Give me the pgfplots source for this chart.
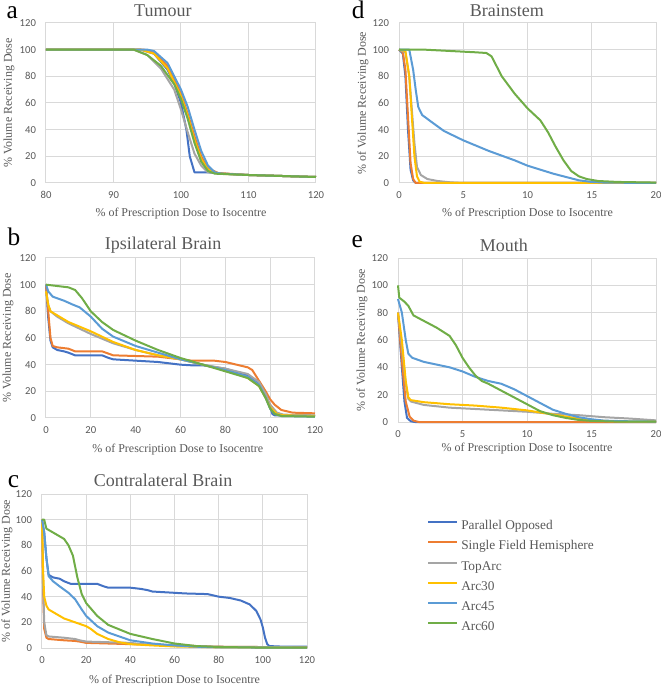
\documentclass[border=0pt]{standalone}
\usepackage{fontspec}
\setmainfont{Liberation Serif}
\newfontfamily\tickfont{Carlito}
\usepackage{pgfplots}
\pgfplotsset{compat=1.18}
\definecolor{cPO}{HTML}{4472C4}
\definecolor{cSF}{HTML}{ED7D31}
\definecolor{cTA}{HTML}{A5A5A5}
\definecolor{cAa}{HTML}{FFC000}
\definecolor{cAb}{HTML}{5B9BD5}
\definecolor{cAc}{HTML}{70AD47}
\definecolor{txtgray}{HTML}{595959}
\definecolor{gridgray}{HTML}{D9D9D9}
\tikzset{letter/.style={anchor=base west, font=\fontsize{19}{20}\selectfont, text=black}}
\pgfplotsset{
  dvh/.style={
    scale only axis,
    anchor=south west,
    ymin=0, ymax=120, ytick={0,20,...,120},
    grid=major,
    major grid style={draw=gridgray, line width=0.75pt},
    axis line style={draw=gridgray, line width=0.75pt},
    major tick length=0pt,
    tick label style={font=\tickfont\fontsize{8}{9}\selectfont, text=txtgray},
    /pgf/number format/assume math mode=true,
    xticklabel shift=3pt, yticklabel shift=4pt,
    label style={font=\fontsize{9}{10}\selectfont, text=txtgray},
    title style={font=\fontsize{13.5}{15}\selectfont, text=txtgray, anchor=center, yshift=-6pt},
    every axis plot/.append style={line width=1.5pt, mark=none, line join=round},
    clip=false,
  },
}
\begin{document}
\begin{tikzpicture}
\path[use as bounding box] (0,0) rectangle (495.75pt,515.25pt);

% ---------------- a: Tumour
\begin{axis}[dvh, at={(34.5pt,378pt)}, width=202.5pt, height=120pt,
  xmin=80, xmax=120, xtick={80,90,...,120},
  title={Tumour}, title style={at={(axis description cs:0.433,1.08)}},
  xlabel={\% of Prescription Dose to Isocentre},
  xlabel style={at={(axis description cs:0.5,-0.19)}, anchor=center},
  ylabel={\% Volume Receiving Dose},
  ylabel style={at={(axis description cs:-0.137,0.5)}, anchor=center}]
\addplot[cPO] coordinates {(80,100)(94,100)(96,97)(98,85)(99,75)(100,60)(100.8,40)(101.3,20)(102,8)(104,8)(106,7)(110,6)(120,4.5)};
\addplot[cSF] coordinates {(80,100)(94.5,100)(96,98)(98,88)(100,67)(101,52)(102,35)(103,20)(104,11)(105.5,7.5)(110,6)(120,4.5)};
\addplot[cTA] coordinates {(80,100)(93,100)(95,96)(97,86)(99,70)(100,55)(101,38)(102,22)(103,13)(104,8)(106,7)(110,6)(120,4.5)};
\addplot[cAa] coordinates {(80,100)(94,100)(96,97)(98,86)(100,65)(101,50)(102,32)(103,18)(104,10)(105.5,7)(110,6)(120,4.5)};
\addplot[cAb] coordinates {(80,100)(95,100)(96,99)(98,90)(100,70)(101,57)(102,40)(103,24)(104,13)(105,8)(106,7)(110,6)(120,4.5)};
\addplot[cAc] coordinates {(80,100)(93,100)(95,96)(97,88)(99,74)(100,63)(101,48)(102,30)(103,16)(104,9)(105,7)(110,6)(120,4.5)};
\node[letter] at (axis description cs:-0.163,1.031) {a};
\end{axis}

% ---------------- d: Brainstem
\begin{axis}[dvh, at={(299.25pt,378pt)}, width=192.75pt, height=120pt,
  xmin=0, xmax=20, xtick={0,5,...,20},
  title={Brainstem}, title style={at={(axis description cs:0.42,1.08)}},
  xlabel={\% of Prescription Dose to Isocentre},
  xlabel style={at={(axis description cs:0.5,-0.19)}, anchor=center},
  ylabel={\% of Volume Receiving Dose},
  ylabel style={at={(axis description cs:-0.14,0.5)}, anchor=center}]
\addplot[cPO] coordinates {(0,100)(0.3,97)(0.5,80)(0.7,40)(0.9,10)(1.1,2)(1.3,0)(20,0)};
\addplot[cSF] coordinates {(0,100)(0.3,98)(0.5,85)(0.7,50)(0.9,15)(1.1,3)(1.3,0)(20,0)};
\addplot[cTA] coordinates {(0,100)(0.5,98)(0.8,80)(1.0,55)(1.2,30)(1.4,12)(1.7,6)(2.2,3)(3,1.5)(4,0.5)(5,0)(20,0)};
\addplot[cAa] coordinates {(0,100)(0.5,99)(0.8,80)(1.0,50)(1.2,20)(1.4,5)(1.6,1)(2,0)(20,0)};
\addplot[cAb] coordinates {(0,100)(0.8,100)(1.1,85)(1.3,70)(1.5,57)(1.8,51)(2.5,46)(3.5,39)(5,32)(7,24)(9,17)(10,13)(11,10)(12,7)(13,4.5)(14,2)(15,0.8)(16,0.3)(20,0)};
\addplot[cAc] coordinates {(0,100)(2,100)(4,99)(6,98)(6.8,97.5)(7.2,95)(8,80)(9,67)(10,56)(11,47)(11.6,38)(12.2,27)(12.8,17)(13.4,9)(14,5)(14.6,3)(15.5,1.5)(17,0.8)(20,0.3)};
\node[letter] at (axis description cs:-0.202,1.031) {d};
\end{axis}

% ---------------- b: Ipsilateral Brain
\begin{axis}[dvh, at={(34.5pt,201.75pt)}, width=201.75pt, height=120pt,
  xmin=0, xmax=120, xtick={0,20,...,120},
  title={Ipsilateral Brain}, title style={at={(axis description cs:0.435,1.081)}},
  xlabel={\% of Prescription Dose to Isocentre},
  xlabel style={at={(axis description cs:0.49,-0.2)}, anchor=center},
  ylabel={\% Volume Receiving Dose},
  ylabel style={at={(axis description cs:-0.141,0.5)}, anchor=center}]
\addplot[cPO] coordinates {(0,100)(1,75)(2,58)(3,53)(5,51)(8,50)(10,49)(13,47)(25,47)(28,45)(30,44)(40,43)(50,42)(55,41)(60,40)(65,39.5)(70,39.5)(80,37)(90,32)(95,26)(98,18)(100,8)(101,3)(102,2)(120,1.5)};
\addplot[cSF] coordinates {(0,100)(1,80)(2,60)(3,54)(5,53)(10,52)(13,50)(25,50)(30,47)(50,46)(55,45)(60,44)(65,43)(75,43)(80,42)(85,40)(90,38)(92,36)(95,28)(98,20)(100,14)(102,10)(105,6)(110,4)(120,3.5)};
\addplot[cTA] coordinates {(0,95)(1,85)(2,80)(5,76)(10,71)(20,63)(30,56)(40,51)(50,47)(60,44)(70,40)(80,37)(90,33)(95,27)(98,18)(100,10)(103,4)(106,2.5)(120,2)};
\addplot[cAa] coordinates {(0,95)(1,85)(2,80)(5,77)(10,72)(20,65)(30,57)(40,51)(50,47)(60,44)(70,40)(80,36)(90,30)(95,24)(98,15)(100,8)(103,3)(106,2)(120,1.5)};
\addplot[cAb] coordinates {(0,100)(1,95)(3,91)(8,88)(12,85)(15,83)(20,76)(25,67)(30,61)(40,54)(50,49)(60,44)(70,40)(80,36)(90,31)(95,25)(98,15)(100,7)(102,3)(105,1.5)(120,1)};
\addplot[cAc] coordinates {(0,100)(5,99)(10,98)(13,96)(16,90)(20,80)(25,72)(30,66)(35,62)(40,58)(50,51)(60,45)(70,40)(80,35)(90,30)(95,24)(98,15)(100,7)(102,3)(105,1.5)(120,1)};
\node[letter] at (axis description cs:-0.16,1.081) {b};
\end{axis}

% ---------------- e: Mouth
\begin{axis}[dvh, at={(298.5pt,198.75pt)}, width=193.5pt, height=123pt,
  xmin=0, xmax=20, xtick={0,5,...,20},
  title={Mouth}, title style={at={(axis description cs:0.41,1.08)}},
  xlabel={\% of Prescription Dose to Isocentre},
  xlabel style={at={(axis description cs:0.5,-0.16)}, anchor=center},
  ylabel={\% of Volume Receiving Dose},
  ylabel style={at={(axis description cs:-0.14,0.5)}, anchor=center}]
\addplot[cPO] coordinates {(0,80)(0.3,40)(0.5,15)(0.7,3)(1,0.5)(1.3,0)(20,0)};
\addplot[cSF] coordinates {(0,80)(0.3,45)(0.6,15)(0.9,4)(1.2,1)(1.6,0)(20,0)};
\addplot[cTA] coordinates {(0,80)(0.3,55)(0.6,28)(0.8,17)(1,15)(2,12.5)(4,10.5)(6,9.5)(8,8.5)(10,7.5)(12,6)(14,5)(16,3.5)(18,2.5)(20,1.2)};
\addplot[cAa] coordinates {(0,80)(0.3,60)(0.6,30)(0.8,18)(1,16)(2,14.5)(4,13)(6,12)(8,10.5)(10,8.5)(11,7)(12,5.5)(13,4)(14,2.5)(15,1.5)(16,0.8)(18,0.3)(20,0.2)};
\addplot[cAb] coordinates {(0,90)(0.3,80)(0.6,60)(0.8,50)(1.1,47)(2,44)(3,42)(4,40)(5,37)(6,33)(7,30)(8,28)(9,24)(10,19)(11,14)(12,9)(13,6)(14,3.5)(15,2)(16,1)(18,0.5)(20,0.3)};
\addplot[cAc] coordinates {(0,100)(0.1,91)(0.5,88)(0.8,85)(1.2,78)(2,74)(3,69)(4,63)(4.5,56)(5,47)(5.5,40)(6,34)(6.5,30)(7,28)(8,23)(9,18)(10,13)(11,8)(12,5)(13,3)(14,1.5)(15,0.8)(17,0.3)(20,0.2)};
\node[letter] at (axis description cs:-0.198,1.061) {e};
\end{axis}

% ---------------- c: Contralateral Brain
\begin{axis}[dvh, at={(31.5pt,29.25pt)}, width=198.75pt, height=115.5pt,
  xmin=0, xmax=120, xtick={0,20,...,120},
  title={Contralateral Brain}, title style={at={(axis description cs:0.457,1.09)}},
  xlabel={\% of Prescription Dose to Isocentre},
  xlabel style={at={(axis description cs:0.5,-0.21)}, anchor=center},
  ylabel={\% of Volume Receiving Dose},
  ylabel style={at={(axis description cs:-0.132,0.5)}, anchor=center},
  legend cell align=left,
  legend image code/.code={\draw[#1, line width=1.5pt] (0pt,3pt) -- (21.75pt,3pt);},
  legend style={at={(axis description cs:1.4528,0.831)}, anchor=north west,
    draw=none, fill=none, inner sep=0pt, font=\fontsize{10}{11}\selectfont, text=txtgray,
    row sep=6.15pt, column sep=2.25pt,
    nodes={inner sep=0pt, text height=7pt, text depth=2pt}}]
\addplot[cPO] coordinates {(0,100)(1,90)(2,70)(3,57)(5,55)(8,54)(10,52)(13,50)(25,50)(28,48)(30,47)(40,47)(45,46)(48,45)(50,44)(60,43)(65,42.5)(75,42)(80,40)(85,39)(90,37)(94,34)(97,29)(99,22)(100,16)(101,8)(102,3)(103,1.5)(110,1)(120,1)};
\addlegendentry{Parallel Opposed}
\addplot[cSF] coordinates {(0,100)(0.5,45)(1,15)(2,8)(3,7)(10,6)(15,5.5)(17,5)(20,4)(30,3.5)(40,3)(60,2)(80,1)(120,0.5)};
\addlegendentry{Single Field Hemisphere}
\addplot[cTA] coordinates {(0,100)(0.5,50)(1,20)(2,10)(3,9)(10,8)(15,7)(17,6)(20,5)(30,4.5)(40,4)(45,3)(60,2)(80,1)(120,0.5)};
\addlegendentry{TopArc}
\addplot[cAa] coordinates {(0,100)(0.5,60)(1,40)(2,33)(3,30)(5,28)(10,23)(15,20)(20,17)(22,15)(25,11)(30,7)(35,4.5)(40,3)(50,2)(60,1.2)(80,0.5)(120,0.2)};
\addlegendentry{Arc30}
\addplot[cAb] coordinates {(0,100)(1,90)(2,70)(3,56)(5,52)(8,48)(12,43)(15,38)(18,30)(20,25)(25,17)(30,12)(40,6)(50,3.5)(60,2)(70,1)(80,0.5)(120,0.2)};
\addlegendentry{Arc45}
\addplot[cAc] coordinates {(0,100)(1,100)(2,93)(5,90)(10,85)(12,80)(14,72)(16,55)(18,42)(20,35)(25,25)(30,18)(40,11)(50,7)(60,3.5)(70,1.5)(80,0.8)(100,0.3)(120,0.2)};
\addlegendentry{Arc60}
\node[letter] at (axis description cs:-0.147,1.039) {c};
\end{axis}
\end{tikzpicture}
\end{document}
